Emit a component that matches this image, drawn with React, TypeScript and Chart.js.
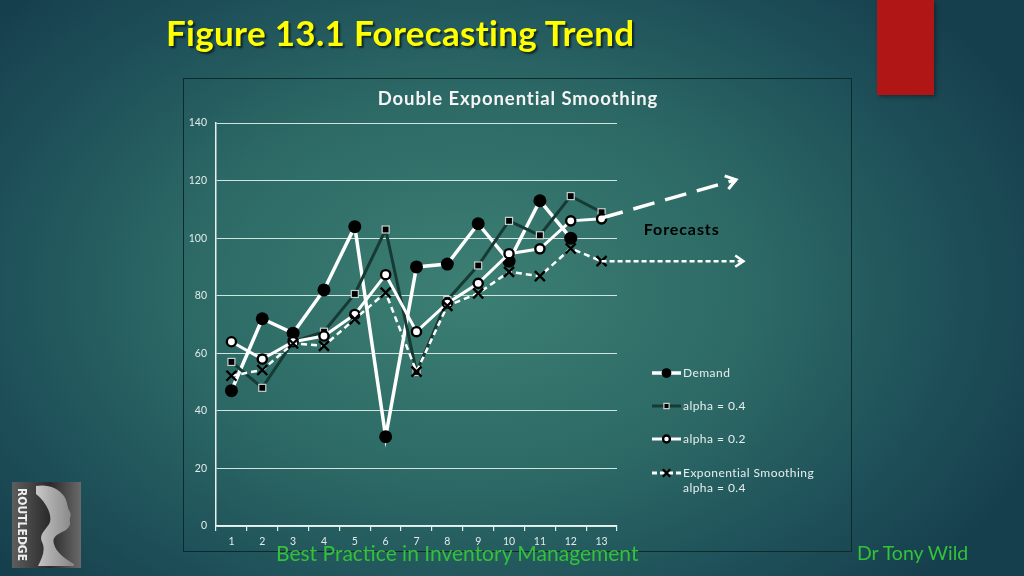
import React, { useEffect, useRef } from "react";
import { Chart, registerables } from "chart.js";

Chart.register(...registerables);

// ---------- data ----------
const periods = ["1", "2", "3", "4", "5", "6", "7", "8", "9", "10", "11", "12", "13"];
const demand = [47, 72, 67, 82, 104, 31, 90, 91, 105, 92, 113, 100, null];
const alpha04 = [57, 48, 64, 67.5, 80.6, 103, 53.5, 78.5, 90.5, 106, 101, 114.6, 109];
const alpha02 = [64, 58, 64, 66, 73.5, 87.3, 67.5, 77.4, 84.3, 94.6, 96.3, 106, 106.7];
const expSmoothing = [52.2, 54.2, 63.4, 62.6, 71.9, 81.1, 53.6, 76.5, 80.8, 88.3, 86.8, 96.4, 92];
const yMin = 0;
const yMax = 140;
const yStep = 20;
// forecast arrows (period, value)
const trendForecastX = [13, 17.36];
const trendForecastY = [107, 120.3];
const levelForecastX = [13, 17.6];
const levelForecastY = [92, 92];
const forecastLabel = "Forecasts";
const forecastLabelAt = [14.37, 102.8];
const chartTitle = "Double Exponential Smoothing";
const legendNames = ["Demand", "alpha = 0.4", "alpha = 0.2", "Exponential Smoothing|alpha = 0.4"];

const FONT = "Lato, 'Open Sans', sans-serif";

type MarkerKind = "dot" | "square" | "ring" | "cross";

function drawMarker(ctx: CanvasRenderingContext2D, kind: MarkerKind, x: number, y: number, scale = 1) {
  ctx.save();
  ctx.setLineDash([]);
  if (kind === "dot") {
    ctx.fillStyle = "#000";
    ctx.beginPath();
    ctx.arc(x, y, 6.5 * scale, 0, Math.PI * 2);
    ctx.fill();
  } else if (kind === "square") {
    const s = 7 * scale;
    ctx.fillStyle = "#000";
    ctx.strokeStyle = "#c8d0d0";
    ctx.lineWidth = 1.2;
    ctx.fillRect(x - s / 2, y - s / 2, s, s);
    ctx.strokeRect(x - s / 2, y - s / 2, s, s);
  } else if (kind === "ring") {
    ctx.fillStyle = "#fff";
    ctx.strokeStyle = "#000";
    ctx.lineWidth = 2.4;
    ctx.beginPath();
    ctx.arc(x, y, 4.6 * scale, 0, Math.PI * 2);
    ctx.fill();
    ctx.stroke();
  } else {
    const r = 5 * scale;
    ctx.strokeStyle = "#000";
    ctx.lineWidth = 2.4;
    ctx.beginPath();
    ctx.moveTo(x - r, y - r);
    ctx.lineTo(x + r, y + r);
    ctx.moveTo(x + r, y - r);
    ctx.lineTo(x - r, y + r);
    ctx.stroke();
  }
  ctx.restore();
}

const kinds: MarkerKind[] = ["dot", "square", "ring", "cross"];

const customMarkers = {
  id: "customMarkers",
  afterDatasetDraw(chart: any, args: any) {
    const ctx = chart.ctx as CanvasRenderingContext2D;
    const meta = args.meta;
    const kind = kinds[args.index];
    meta.data.forEach((el: any) => {
      if (el.skip || isNaN(el.x) || isNaN(el.y)) return;
      drawMarker(ctx, kind, el.x, el.y);
    });
  },
};

function arrowHead(ctx: CanvasRenderingContext2D, x0: number, y0: number, x1: number, y1: number, len: number, spread: number) {
  const a = Math.atan2(y1 - y0, x1 - x0);
  ctx.beginPath();
  ctx.moveTo(x1 - len * Math.cos(a - spread), y1 - len * Math.sin(a - spread));
  ctx.lineTo(x1, y1);
  ctx.lineTo(x1 - len * Math.cos(a + spread), y1 - len * Math.sin(a + spread));
  ctx.stroke();
}

function setSpacing(ctx: CanvasRenderingContext2D, v: string) {
  (ctx as any).letterSpacing = v;
}

const overlay = {
  id: "overlay",
  afterDraw(chart: any) {
    const ctx = chart.ctx as CanvasRenderingContext2D;
    const xs = chart.scales.x;
    const ys = chart.scales.y;
    const px = (p: number) => xs.getPixelForValue(p - 1);
    const py = (v: number) => ys.getPixelForValue(v);

    // title
    ctx.save();
    ctx.fillStyle = "#f4f4f4";
    ctx.font = `bold 18.5px ${FONT}`;
    setSpacing(ctx, "0.9px");
    ctx.textAlign = "center";
    ctx.textBaseline = "middle";
    ctx.fillText(chartTitle, 335, 21);
    ctx.restore();

    // trend forecast arrow (long dashes)
    ctx.save();
    ctx.strokeStyle = "#fff";
    ctx.lineCap = "butt";
    ctx.lineWidth = 3.5;
    ctx.setLineDash([22, 11]);
    let x0 = px(trendForecastX[0]), y0 = py(trendForecastY[0]);
    let x1 = px(trendForecastX[1]), y1 = py(trendForecastY[1]);
    ctx.beginPath();
    ctx.moveTo(x0, y0);
    ctx.lineTo(x1, y1);
    ctx.stroke();
    ctx.setLineDash([]);
    ctx.lineWidth = 3;
    arrowHead(ctx, x0, y0, x1, y1, 12, 0.6);

    // level forecast arrow (short dashes)
    ctx.lineWidth = 2.5;
    ctx.setLineDash([5, 3]);
    x0 = px(levelForecastX[0]); y0 = py(levelForecastY[0]);
    x1 = px(levelForecastX[1]); y1 = py(levelForecastY[1]);
    ctx.beginPath();
    ctx.moveTo(x0, y0);
    ctx.lineTo(x1, y1);
    ctx.stroke();
    ctx.setLineDash([]);
    ctx.lineWidth = 2.5;
    arrowHead(ctx, x0, y0, x1, y1, 10, 0.6);

    // forecast label
    ctx.fillStyle = "#000";
    ctx.font = `bold 16px ${FONT}`;
    setSpacing(ctx, "0.9px");
    ctx.textAlign = "left";
    ctx.textBaseline = "middle";
    ctx.fillText(forecastLabel, px(forecastLabelAt[0]), py(forecastLabelAt[1]));
    ctx.restore();

    // legend
    ctx.save();
    const lx0 = 469, lx1 = 498, tx = 500;
    const rows = [295, 328, 361, 395];
    legendNames.forEach((name, i) => {
      const y = rows[i];
      ctx.setLineDash(i === 3 ? [5, 3] : []);
      ctx.strokeStyle = i === 1 ? "#173a34" : "#fff";
      ctx.lineWidth = i === 0 ? 3.5 : 3;
      ctx.beginPath();
      ctx.moveTo(lx0, y);
      ctx.lineTo(lx1, y);
      ctx.stroke();
      ctx.setLineDash([]);
      drawMarker(ctx, kinds[i], (lx0 + lx1) / 2, y, 0.75);
      ctx.fillStyle = "#e6eeee";
      ctx.font = `12px ${FONT}`;
      setSpacing(ctx, "0.45px");
      ctx.textAlign = "left";
      ctx.textBaseline = "middle";
      name.split("|").forEach((ln, j) => ctx.fillText(ln, tx, y + j * 15));
      setSpacing(ctx, "0px");
    });
    ctx.restore();
  },
};

function ForecastChart() {
  const ref = useRef<HTMLCanvasElement | null>(null);
  useEffect(() => {
    if (!ref.current) return;
    const chart = new Chart(ref.current, {
      type: "line",
      data: {
        labels: periods,
        datasets: [
          {
            label: "Demand",
            data: demand,
            borderColor: "#ffffff",
            borderWidth: 3.5,
            pointRadius: 0,
            order: 3,
            spanGaps: false,
          },
          {
            label: "alpha = 0.4",
            data: alpha04,
            borderColor: "#173a34",
            borderWidth: 3,
            pointRadius: 0,
            order: 2,
          },
          {
            label: "alpha = 0.2",
            data: alpha02,
            borderColor: "#ffffff",
            borderWidth: 3,
            pointRadius: 0,
            order: 1,
          },
          {
            label: "Exponential Smoothing alpha = 0.4",
            data: expSmoothing,
            borderColor: "#ffffff",
            borderWidth: 2.5,
            borderDash: [6, 4],
            pointRadius: 0,
            order: 0,
          },
        ],
      },
      options: {
        animation: false,
        responsive: false,
        maintainAspectRatio: false,
        layout: { padding: { top: 45, right: 235, left: 0, bottom: 0 } },
        plugins: {
          legend: { display: false },
          title: { display: false },
          tooltip: { enabled: false },
        },
        scales: {
          x: {
            offset: true,
            grid: {
              display: true,
              drawOnChartArea: false,
              offset: true,
              tickLength: 5,
              color: "#e4ecec",
              lineWidth: 1.2,
            },
            border: { color: "#e8f0f0", width: 1.5 },
            ticks: { color: "#e2eaea", font: { family: FONT, size: 10.5 }, padding: 4, maxRotation: 0 },
            afterFit: (s: any) => {
              s.height = 26;
            },
          },
          y: {
            min: yMin,
            max: yMax,
            grid: { color: "#cfe6e0", lineWidth: 1, drawTicks: false },
            border: { color: "#e8f0f0", width: 1.5 },
            ticks: { stepSize: yStep, color: "#e2eaea", font: { family: FONT, size: 10.5 }, padding: 9 },
            afterFit: (s: any) => {
              s.width = 33;
            },
          },
        },
      },
      plugins: [customMarkers, overlay],
    } as any);
    return () => chart.destroy();
  }, []);
  return <canvas ref={ref} width={669} height={474} style={{ display: "block", width: 669, height: 474 }} />;
}

export default function App() {
  return (
    <div
      style={{
        position: "fixed",
        left: 0,
        top: 0,
        width: 1024,
        height: 576,
        overflow: "hidden",
        background:
          "radial-gradient(ellipse 620px 420px at 470px 290px, #3c7f73 0%, #2d6a66 45%, #1f525a 75%, #163f4d 100%)",
        fontFamily: FONT,
      }}
    >
      <div style={{ position: "absolute", left: 877, top: 0, width: 57, height: 95, background: "#b01616", boxShadow: "2px 2px 4px rgba(0,0,0,0.35)" }} />
      <div
        style={{
          position: "absolute",
          left: 166,
          top: 11,
          fontSize: 35,
          fontWeight: 700,
          color: "#ffff00",
          letterSpacing: 0.3,
          textShadow: "2px 2px 2px rgba(0,0,0,0.6)",
          whiteSpace: "nowrap",
          lineHeight: "42px",
        }}
      >
        Figure 13.1 Forecasting Trend
      </div>
      <div style={{ position: "absolute", left: 183, top: 78, width: 669, height: 474, boxSizing: "border-box", border: "1px solid #0e2a2c" }} />
      <div style={{ position: "absolute", left: 183, top: 78 }}>
        <ForecastChart />
      </div>
      <div style={{ position: "absolute", left: 276, top: 539, fontSize: 21, color: "#33c23a", whiteSpace: "nowrap", lineHeight: "27px" }}>
        Best Practice in Inventory Management
      </div>
      <div style={{ position: "absolute", left: 857, top: 540, fontSize: 19.5, color: "#33c23a", whiteSpace: "nowrap", lineHeight: "26px" }}>
        Dr Tony Wild
      </div>
      <div
        style={{
          position: "absolute",
          left: 12,
          top: 482,
          width: 69,
          height: 86,
          background: "linear-gradient(90deg, #5e5e5e, #2a2a2a 55%, #6a6a6a)",
        }}
      >
        <div
          style={{
            position: "absolute",
            left: 1,
            top: 4,
            width: 16,
            height: 78,
            writingMode: "vertical-rl",
            fontSize: 12,
            fontWeight: 700,
            color: "#eeeeee",
            fontFamily: "'DejaVu Sans Condensed', 'DejaVu Sans', sans-serif",
            textAlign: "center",
          }}
        >
          ROUTLEDGE
        </div>
        <svg width="69" height="86" style={{ position: "absolute", left: 0, top: 0 }}>
          <defs>
            <linearGradient id="face" x1="0" x2="1" y1="0" y2="0">
              <stop offset="0" stopColor="#d8d8d8" />
              <stop offset="1" stopColor="#8a8a8a" />
            </linearGradient>
          </defs>
          <path
            d="M24 4 C36 2 46 6 52 14 C56 20 55 26 58 30 C60 34 57 36 58 40 C59 44 55 48 50 50 C44 53 40 56 42 62 C44 70 52 76 62 82 L62 84 L26 84 C30 76 34 68 30 60 C26 52 36 46 38 40 C40 32 34 20 24 12 Z"
            fill="url(#face)"
            opacity="0.9"
          />
        </svg>
      </div>
    </div>
  );
}
